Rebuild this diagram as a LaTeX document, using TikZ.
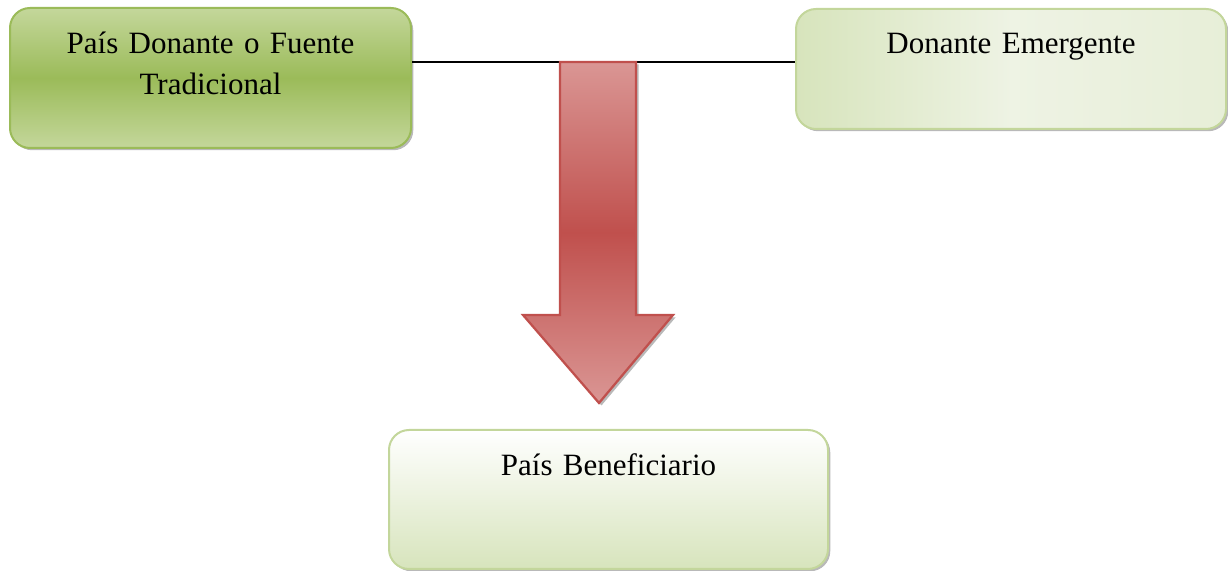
\documentclass[tikz,border=0pt]{standalone}
\usepackage{fontspec}
\setmainfont{Liberation Serif}
\usepackage{tikz}
\usetikzlibrary{positioning, calc, shadows}
\definecolor{mygreen}{RGB}{155,187,89}
\definecolor{mylgreen}{RGB}{196,215,155}
\definecolor{mypale}{RGB}{238,243,228}
\definecolor{mypale2}{RGB}{215,228,188}
\definecolor{myedge}{RGB}{195,214,155}
\definecolor{myred}{RGB}{192,80,77}
\definecolor{mylred}{RGB}{218,150,148}
\tikzset{
  box/.style={rectangle, rounded corners=8pt, inner sep=0pt,
    align=center, font=\fontsize{12.4}{16.4}\selectfont, line width=0.8pt,
    drop shadow={shadow xshift=0.9pt, shadow yshift=-0.9pt, fill=black!55}},
  donorbox/.style={box, draw=mygreen, top color=mylgreen,
    bottom color=mylgreen, middle color=mygreen},
  emergbox/.style={box, draw=myedge, left color=mypale2,
    right color=mypale!70!mypale2, middle color=mypale},
  benefbox/.style={box, draw=myedge, top color=white, bottom color=mypale2},
  flowarrow/.style={draw=myred, line width=0.9pt, top color=mylred,
    bottom color=mylred, middle color=myred,
    drop shadow={shadow xshift=1pt, shadow yshift=-1pt, fill=black!55}},
  line/.style={line width=0.6pt, color=black}
}
\begin{document}
\begin{tikzpicture}[x=0.4pt, y=-0.4pt]
  \useasboundingbox (0,0) rectangle (1228,571);
  % Traditional donor
  \node[donorbox, anchor=north west, text width=160.4pt,
    text height=18.4pt, text depth=37.6pt] (pdonor) at (9,7)
    {País Donante o Fuente\\Tradicional};
  % Emerging donor
  \node[emergbox, anchor=north west, text width=172pt,
    text height=18pt, text depth=30pt] (emerg) at (795,8)
    {Donante Emergente};
  % Beneficiary
  \node[benefbox, anchor=north west, text width=175.6pt,
    text height=18.4pt, text depth=37.2pt] (benef) at (388,429)
    {País Beneficiario};

  % Link between donors
  \coordinate (link) at (600,62);
  \draw[line] (pdonor.east |- link) -- (emerg.west |- link);

  % Flow down to beneficiary
  \path[flowarrow] (560,62) -- (636,62) -- (636,315) -- (673,315)
    -- (599,403) -- (523,315) -- (560,315) -- cycle;
\end{tikzpicture}
\end{document}
